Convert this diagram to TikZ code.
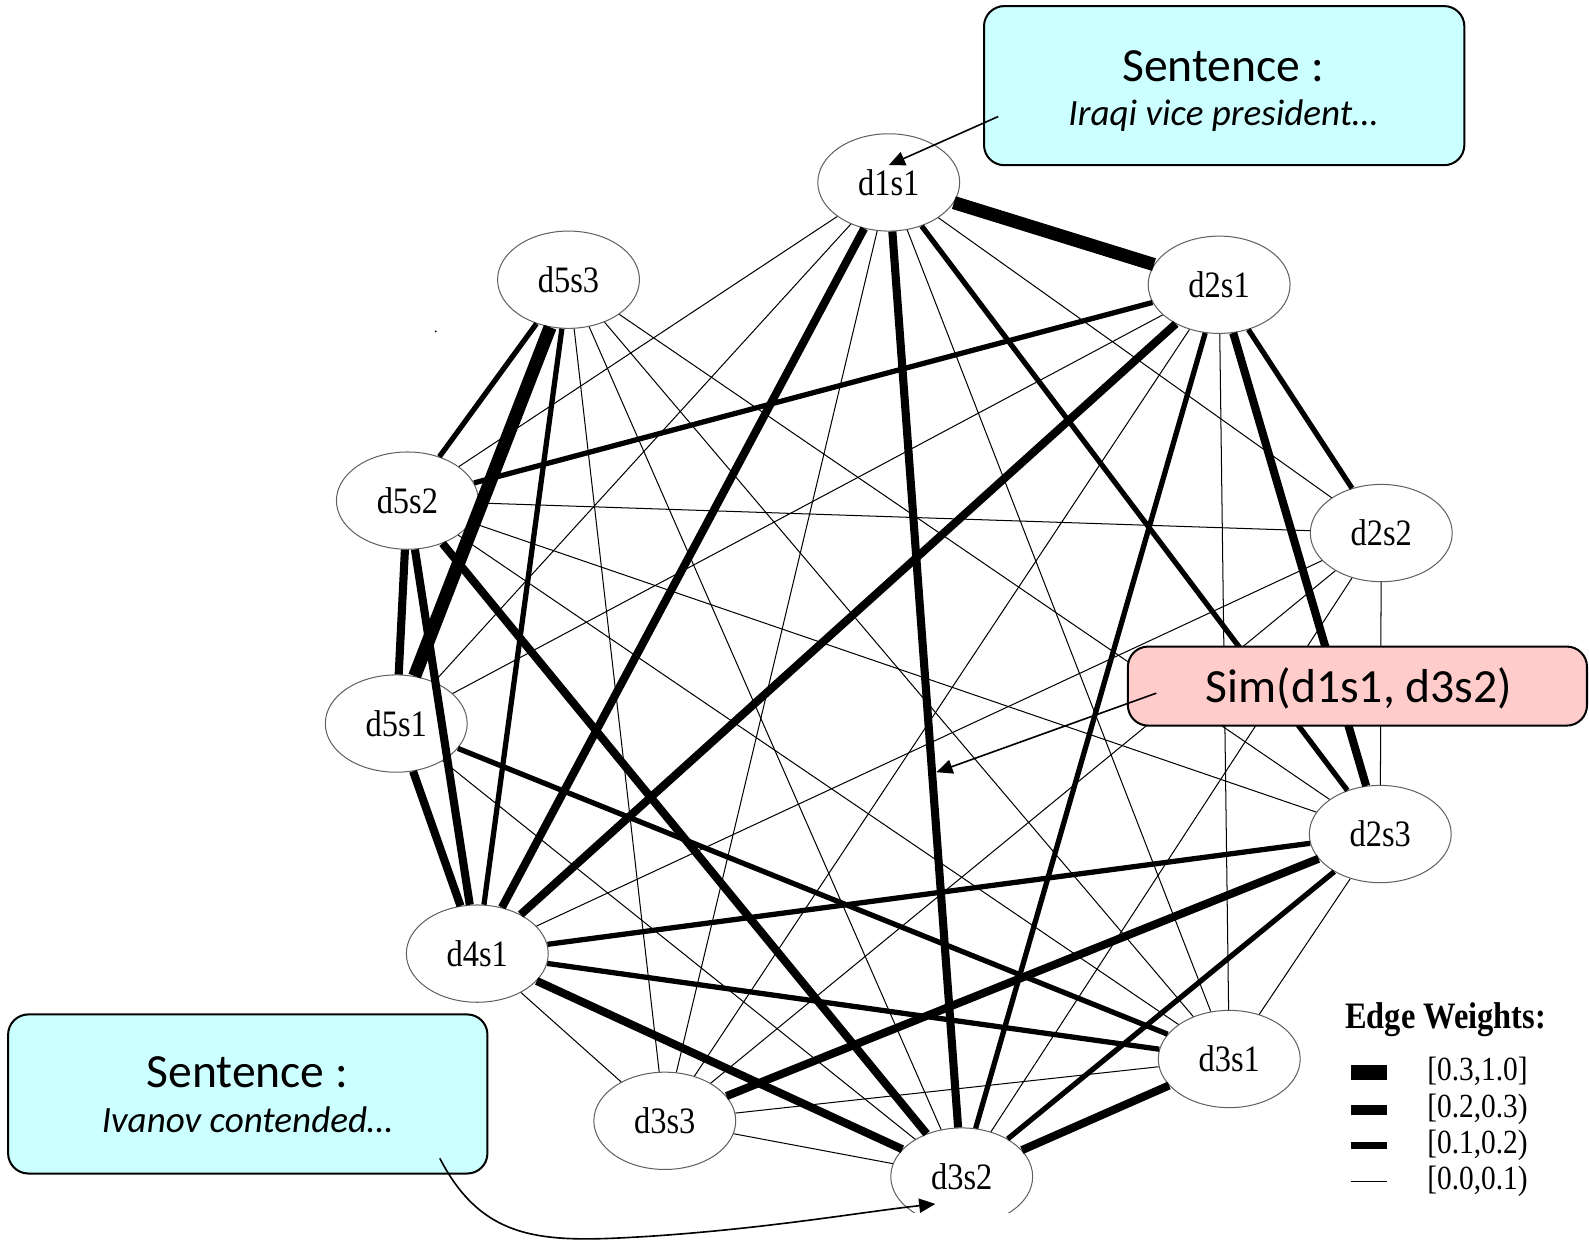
\documentclass[tikz,border=0pt]{standalone}
\usepackage{fontspec}
\usepackage{graphicx}
\setmainfont{Liberation Serif}
\newfontfamily\calib{Carlito}
\usetikzlibrary{shapes.geometric,arrows.meta}
% slightly condensed look of the graph lettering
\newcommand{\tallish}[1]{\scalebox{1}[1.15]{#1}}

\begin{document}
\begin{tikzpicture}[x=0.5pt,y=-0.5pt,
  sent/.style={draw=gray!75!black, line width=0.5pt, ellipse, fill=white,
    minimum width=70pt, minimum height=48pt, inner sep=0pt,
    font=\fontsize{16}{16}\selectfont},
  wA/.style={line width=0.5pt},
  wB/.style={line width=2.6pt},
  wC/.style={line width=4pt},
  wD/.style={line width=6.5pt},
  callout/.style={draw=black, line width=1pt, rounded corners=10pt},
  pointer/.style={line width=0.8pt, -{Triangle[length=8pt,width=7pt]}},
  bigtxt/.style={font=\calib\fontsize{23.5}{24}\selectfont, inner sep=0pt, anchor=base},
  ittxt/.style={font=\calib\itshape\fontsize{18.3}{19}\selectfont, inner sep=0pt, anchor=base},
  legtxt/.style={font=\fontsize{14.5}{15}\selectfont, inner sep=0pt, anchor=base west}]

\useasboundingbox (0,0) rectangle (1568,1227);
\fill[white] (0,0) rectangle (1568,1227);

% ---- sentence similarity graph ----
\begin{scope}
\clip (0,0) rectangle (1568,1196);
\node[sent] (d1s1) at (877,180) {\tallish{d1s1}};
\node[sent] (d2s1) at (1203,281) {\tallish{d2s1}};
\node[sent] (d2s2) at (1363,526) {\tallish{d2s2}};
\node[sent] (d2s3) at (1362,823) {\tallish{d2s3}};
\node[sent] (d3s1) at (1213,1045) {\tallish{d3s1}};
\node[sent] (d3s2) at (949,1161) {\tallish{d3s2}};
\node[sent] (d3s3) at (656,1106) {\tallish{d3s3}};
\node[sent] (d4s1) at (471,941) {\tallish{d4s1}};
\node[sent] (d5s1) at (391,714) {\tallish{d5s1}};
\node[sent] (d5s2) at (402,494) {\tallish{d5s2}};
\node[sent] (d5s3) at (561,276) {\tallish{d5s3}};

% weight [0.0,0.1)
\foreach \a/\b in {d1s1/d5s2, d1s1/d5s1, d1s1/d3s3, d1s1/d3s1, d1s1/d2s2,
  d2s1/d5s1, d2s1/d3s3, d2s1/d3s1, d2s2/d5s2, d2s2/d2s3, d2s2/d4s1,
  d2s2/d3s3, d2s2/d3s2, d2s3/d5s3, d2s3/d5s2, d2s3/d3s1, d3s1/d5s3,
  d3s1/d5s2, d3s1/d3s3, d4s1/d3s3, d3s3/d5s3, d3s3/d3s2, d5s3/d3s2,
  d5s1/d3s2}
  \draw[wA] (\a) -- (\b);
% weight [0.1,0.2)
\foreach \a/\b in {d5s3/d5s2, d5s3/d4s1, d2s1/d2s2, d1s1/d2s3, d2s1/d5s2,
  d2s1/d3s2, d5s1/d3s1, d4s1/d2s3, d4s1/d3s1, d2s3/d3s2}
  \draw[wB] (\a) -- (\b);
% weight [0.2,0.3)
\foreach \a/\b in {d1s1/d4s1, d1s1/d3s2, d2s1/d4s1, d2s1/d2s3, d5s2/d5s1,
  d5s1/d4s1, d5s2/d4s1, d5s2/d3s2, d4s1/d3s2, d3s3/d2s3, d3s2/d3s1}
  \draw[wC] (\a) -- (\b);
% weight [0.3,1.0]
\foreach \a/\b in {d1s1/d2s1, d5s3/d5s1}
  \draw[wD] (\a) -- (\b);

\fill (430,327) circle (1);

% legend
\node[font=\bfseries\fontsize{16}{16}\selectfont, inner sep=0pt, anchor=base west]
  (legtitle) at (1327,1015) {\tallish{Edge Weights:}};
\coordinate (l1a) at (1333,1058); \coordinate (l1b) at (1369,1058);
\coordinate (l2a) at (1333,1095); \coordinate (l2b) at (1369,1095);
\coordinate (l3a) at (1333,1130); \coordinate (l3b) at (1369,1130);
\coordinate (l4a) at (1333,1166); \coordinate (l4b) at (1369,1166);
\draw[line width=7.5pt] (l1a) -- (l1b);
\draw[line width=5pt] (l2a) -- (l2b);
\draw[line width=3.5pt] (l3a) -- (l3b);
\draw[wA] (l4a) -- (l4b);
\node[legtxt] (lg1) at (1408,1066) {\tallish{[0.3,1.0]}};
\node[legtxt] (lg2) at (1408,1103) {\tallish{[0.2,0.3)}};
\node[legtxt] (lg3) at (1408,1138) {\tallish{[0.1,0.2)}};
\node[legtxt] (lg4) at (1408,1174) {\tallish{[0.0,0.1)}};
\end{scope}

% ---- callouts ----
\draw[callout, fill={rgb,255:red,204;green,255;blue,255}] (971,6) rectangle (1445,163);
\node[bigtxt] (t1) at (1207,80) {Sentence :};
\node[ittxt] (t2) at (1207,124) {Iraqi vice president…};
\coordinate (p1) at (985,115);
\draw[pointer] (p1) -- (d1s1.center |- 0,163) ;

\draw[callout, fill={rgb,255:red,255;green,204;blue,204}] (1113,638) rectangle (1566,716);
\node[bigtxt] (t3) at (1341,693) {Sim(d1s1, d3s2)};
\coordinate (p2) at (1141,684);
\coordinate (p2tip) at (924,762);
\draw[pointer] (p2) -- (p2tip);

\draw[callout, fill={rgb,255:red,204;green,255;blue,255}] (8,1001) rectangle (481,1158);
\node[bigtxt] (t4) at (244,1073) {Sentence :};
\node[ittxt] (t5) at (244,1118) {Ivanov contended…};
\coordinate (p3) at (434,1143);
\coordinate (p3tip) at (923,1188);
\draw[pointer] (p3) .. controls (478,1228) and (540,1226) .. (640,1220)
  .. controls (760,1212) and (850,1196) .. (p3tip);
\end{tikzpicture}
\end{document}
